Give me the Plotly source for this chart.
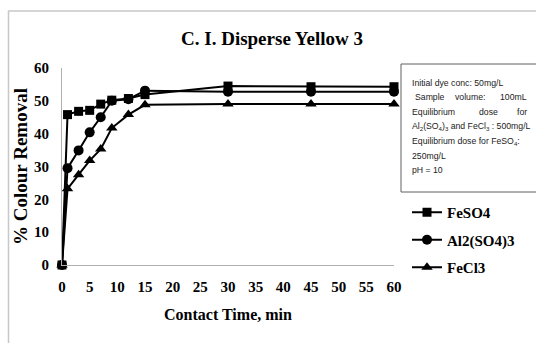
import plotly.graph_objects as go

# ---- data ----
time_min = [0, 1, 3, 5, 7, 9, 12, 15, 30, 45, 60]
feso4 = [0, 45.8, 46.8, 47.1, 49.0, 50.2, 50.7, 51.9, 54.5, 54.3, 54.3]
al2so43 = [0, 29.5, 34.9, 40.4, 45.0, 50.0, 50.5, 53.1, 52.8, 52.8, 52.8]
fecl3 = [0, 23.2, 27.5, 31.8, 35.3, 41.7, 45.8, 48.8, 49.0, 49.0, 49.0]
series_names = ["FeSO4", "Al2(SO4)3", "FeCl3"]
x_ticks = [0, 5, 10, 15, 20, 25, 30, 35, 40, 45, 50, 55, 60]
y_ticks = [0, 10, 20, 30, 40, 50, 60]

W, H = 536, 343
L, R, T, B = 62, 394, 68, 265  # plot area in px


def px(x):
    return (x - L) / (R - L)


def py(y):
    return (B - y) / (B - T)


SERIF = "Liberation Serif, Times New Roman, serif"
SANS = "Liberation Sans Narrow, Arial Narrow, Liberation Sans, sans-serif"

fig = go.Figure()
symbols = ["square", "circle", "triangle-up"]
sizes = [9, 10, 10]
for name, ys, sym, sz in zip(series_names, [feso4, al2so43, fecl3], symbols, sizes):
    fig.add_trace(go.Scatter(
        x=time_min, y=ys, name=name, mode="lines+markers",
        line=dict(color="black", width=2),
        marker=dict(symbol=sym, size=sz, color="black"),
        legendgroup=name, cliponaxis=False,
    ))

fig.update_layout(
    width=W, height=H,
    margin=dict(l=L, r=W - R, t=T, b=H - B),
    paper_bgcolor="white", plot_bgcolor="white",
    title=dict(text="C. I. Disperse Yellow 3", x=272 / W, xref="container", xanchor="center",
               y=1 - 38 / H, yref="container", yanchor="middle",
               font=dict(family=SERIF, size=19, color="black", weight="bold")),
    xaxis=dict(range=[0, 60], tickvals=x_ticks, showgrid=False, zeroline=False,
               showline=True, linecolor="#b0b0b0", linewidth=1, ticks="",
               tickfont=dict(family=SERIF, size=15, color="black", weight="bold"),
               ticklabelstandoff=8,
               title=dict(text="Contact Time, min", standoff=14,
                          font=dict(family=SERIF, size=16, color="black", weight="bold"))),
    yaxis=dict(range=[0, 60], tickvals=y_ticks, showgrid=False, zeroline=False,
               showline=True, linecolor="#b0b0b0", linewidth=1, ticks="",
               tickfont=dict(family=SERIF, size=15, color="black", weight="bold"),
               ticklabelstandoff=9,
               title=dict(text="% Colour Removal", standoff=1,
                          font=dict(family=SERIF, size=19, color="black", weight="bold"))),
    legend=dict(x=px(407), y=py(196), xanchor="left", yanchor="top",
                bgcolor="rgba(0,0,0,0)", tracegroupgap=5,
                font=dict(family=SERIF, size=15, color="black", weight="bold")),
    showlegend=True,
)

# outer frame
fig.add_shape(type="rect", xref="paper", yref="paper",
              x0=px(8.5), x1=px(545), y0=py(350), y1=py(11),
              line=dict(color="#c8c8c8", width=1.5), fillcolor="rgba(0,0,0,0)", layer="below")
# info box
fig.add_shape(type="rect", xref="paper", yref="paper",
              x0=px(401), x1=px(545), y0=py(192), y1=py(64),
              line=dict(color="#606060", width=1), fillcolor="white")

info_font = dict(family=SANS, size=8.7, color="#222222")
line_y = [83, 97.5, 112, 126.5, 141, 155.5, 170]


def note(text, x, y, anchor="left"):
    fig.add_annotation(text=text, xref="paper", yref="paper", x=px(x), y=py(y),
                       xanchor=anchor, yanchor="middle", showarrow=False, font=info_font)


note("Initial dye conc: 50mg/L", 410, line_y[0])
note("Sample", 413, line_y[1])
note("volume:", 470, line_y[1], "center")
note("100mL", 529, line_y[1], "right")
note("Equilibrium", 410, line_y[2])
note("dose", 488, line_y[2], "center")
note("for", 529, line_y[2], "right")
note("Al<sub>2</sub>(SO<sub>4</sub>)<sub>3</sub> and FeCl<sub>3</sub> : 500mg/L", 410, line_y[3])
note("Equilibrium dose for FeSO<sub>4</sub>:", 410, line_y[4])
note("250mg/L", 410, line_y[5])
note("pH = 10", 410, line_y[6])

fig.write_html("out.html")
